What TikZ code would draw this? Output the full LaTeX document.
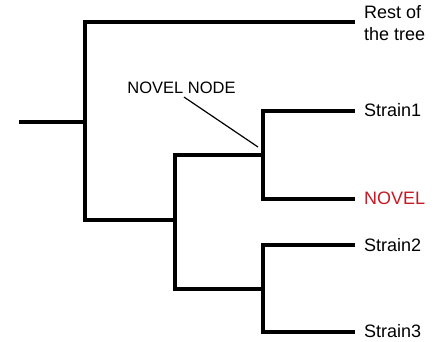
\documentclass[tikz,border=0pt]{standalone}
\usepackage{fontspec}
\setmainfont{Liberation Sans}
\definecolor{novelred}{RGB}{200,24,36}
\begin{document}
\begin{tikzpicture}[x=1pt,y=-1pt,
  branch/.style={line width=3.3pt,line cap=rect,line join=miter},
  leaflabel/.style={anchor=west,inner sep=0pt,font=\fontsize{18}{22}\selectfont},
  pointer/.style={line width=1.2pt}]
\useasboundingbox (0,0) rectangle (441,341);
% tree nodes
\coordinate (r) at (21,122);
\coordinate (a) at (85,122);
\coordinate (b) at (175,220);
\coordinate (c) at (263,155);
\coordinate (d) at (263,289);
\coordinate (rest) at (353,22);
\coordinate (s1) at (353,111);
\coordinate (nov) at (353,199);
\coordinate (s2) at (353,245);
\coordinate (s3) at (353,332);
% branches
\draw[branch] (r) -- (a);
\draw[branch] (a) |- (rest);
\draw[branch] (a) |- (b);
\draw[branch] (b) |- (c);
\draw[branch] (b) |- (d);
\draw[branch] (c) |- (s1);
\draw[branch] (c) |- (nov);
\draw[branch] (d) |- (s2);
\draw[branch] (d) |- (s3);
% labels
\node[leaflabel,align=left] (lrest) at (364,23) {Rest of\\the tree};
\node[leaflabel] (ls1) at (364,110) {Strain1};
\node[leaflabel,text=novelred] (lnov) at (364,198) {NOVEL};
\node[leaflabel] (ls2) at (364,245) {Strain2};
\node[leaflabel] (ls3) at (364,331) {Strain3};
\node[inner sep=0pt,font=\fontsize{16.5}{20}\selectfont] (nn) at (181.5,88) {NOVEL NODE};
\coordinate (tip) at (258,147);
\draw[pointer] ([xshift=2.5pt,yshift=-3pt]nn.south) -- (tip);
\end{tikzpicture}
\end{document}
